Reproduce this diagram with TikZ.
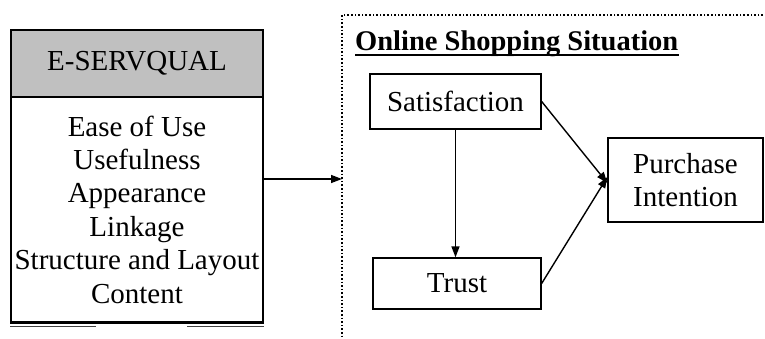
\documentclass[tikz,border=0pt]{standalone}
\usepackage{fontspec}
\setmainfont{Liberation Serif}
\usetikzlibrary{arrows.meta}
\tikzset{
  box/.style={draw, line width=1.3pt, inner sep=0pt, align=center, font=\fontsize{29}{33}\selectfont},
  arr/.style={line width=1.4pt, -{Triangle[length=11pt,width=8pt]}},
}
\begin{document}
\begin{tikzpicture}[x=1pt,y=-1pt]
\useasboundingbox (0,0) rectangle (765,338);
% left table
\node[box, fill={rgb,255:red,192;green,192;blue,192}, minimum width=252pt, minimum height=67pt] (head) at (137,63.5) {E-SERVQUAL};
\node[box, minimum width=252pt, minimum height=225pt, font=\fontsize{29}{33.4}\selectfont] (body) at (137,209.5)
  {Ease of Use\\Usefulness\\Appearance\\Linkage\\Structure and Layout\\Content};
\draw[line width=2.4pt] (body.south west) -- (body.south east);
\draw[line width=1pt, black!75] ([yshift=-4pt]body.south west) -- ++(86,0);
\draw[line width=1pt, black!75] ([yshift=-4pt]body.south east) -- ++(-77,0);
% dotted frame
\coordinate (fTR) at (763,15);
\coordinate (fTL) at (342,15);
\coordinate (fBL) at (342,338);
\draw[dotted, line width=1.6pt] (fTR) -- (fTL) -- (fBL);
\node[anchor=base west, inner sep=0pt, font=\fontsize{28.5}{32}\selectfont\bfseries] (title) at (355,50) {Online Shopping Situation};
\draw[line width=1.8pt] ([yshift=-5pt]title.base west) -- ([yshift=-5pt]title.base east);
% nodes
\node[box, minimum width=171pt, minimum height=55pt] (sat) at (455.5,101.5) {Satisfaction};
\node[box, minimum width=168pt, minimum height=51pt] (trust) at (457,283.5) {Trust};
\node[box, minimum width=155pt, minimum height=84pt, font=\fontsize{29}{32.5}\selectfont] (pur) at (685.5,180) {Purchase\\Intention};
% arrows
\coordinate (aS) at (263,179);
\coordinate (aE) at (342,179);
\draw[arr] (aS) -- (aE);
\draw[arr] (sat.south) -- (sat.south |- trust.north);
\draw[arr] (sat.east) -- ([yshift=-3pt]pur.west);
\draw[arr] (trust.east) -- ([yshift=3pt]pur.west);
\end{tikzpicture}
\end{document}
